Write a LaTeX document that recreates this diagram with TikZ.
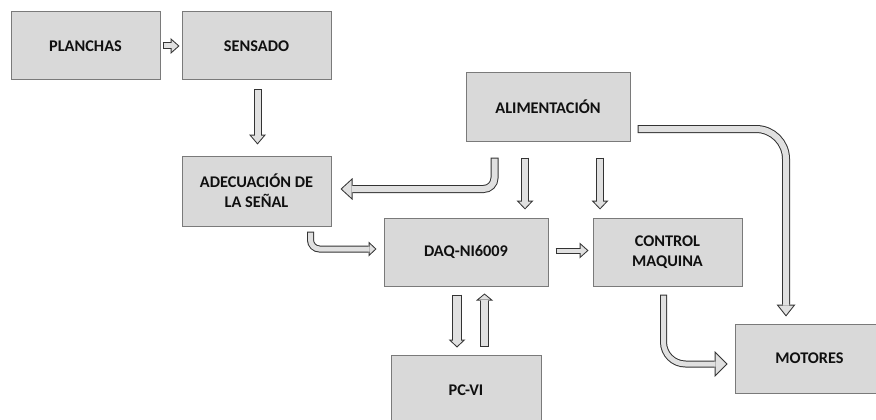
\documentclass[tikz,border=0pt]{standalone}
\usepackage{fontspec}
\setmainfont{Carlito}
\usetikzlibrary{arrows.meta,calc}

\definecolor{boxfill}{HTML}{D9D9D9}
\definecolor{boxline}{HTML}{7A7A7A}
\definecolor{arrline}{HTML}{333333}
\definecolor{arrfill}{HTML}{E0E0E0}
\definecolor{labeltext}{HTML}{101010}

% outline thickness of the hollow block arrows
\def\aDw{1}

% \blockarrow[path options]{outer shaft width}{head length}{head width}{path}
% Drawn twice: a dark outer stroke, then a lighter inner stroke inset by \aDw.
\newcommand\blockarrow[5][]{%
  \pgfmathsetmacro\baSinA{sin(atan2(#4/2,#3))}%
  \pgfmathsetmacro\baTipIn{\aDw/\baSinA}%
  \pgfmathsetmacro\baLin{#3-\aDw-\baTipIn}%
  \pgfmathsetmacro\baWin{#4*\baLin/#3}%
  \pgfmathsetmacro\baShaft{#2-2*\aDw}%
  \draw[#1, line cap=butt, line width=#2pt, draw=arrline,
        -{Triangle[length=#3pt,width=#4pt,line width=0pt]}] #5;
  \draw[#1, line cap=butt, line width=\baShaft pt, draw=arrfill,
        shorten <=\aDw pt, shorten >=\baTipIn pt,
        -{Triangle[length=\baLin pt,width=\baWin pt,line width=0pt]}] #5;
}

\tikzset{
  block/.style={rectangle, draw=boxline, fill=boxfill, line width=1pt,
    inner sep=0pt, align=center, text=labeltext,
    font=\fontsize{16.3}{20}\selectfont\bfseries},
}

\begin{document}
\begin{tikzpicture}[x=1pt, y=-1pt]
\useasboundingbox (0,0) rectangle (876,420);
\clip (0,0) rectangle (876,420);

% blocks
\node[block, minimum width=149, minimum height=68] (planchas) at (85.5,46) {PLANCHAS};
\node[block, minimum width=149, minimum height=68] (sensado) at (256.5,46) {SENSADO};
\node[block, minimum width=164, minimum height=68] (alim) at (548,107) {ALIMENTACIÓN};
\node[block, minimum width=149, minimum height=70] (adec) at (256.5,191) {ADECUACIÓN DE\\LA SEÑAL};
\node[block, minimum width=164, minimum height=68] (daq) at (466,252) {DAQ-NI6009};
\node[block, minimum width=149, minimum height=68] (control) at (667.5,252) {CONTROL\\MAQUINA};
\node[block, minimum width=150, minimum height=70] (pcvi) at (466,390) {PC-VI};
\node[block, minimum width=149, minimum height=69] (motores) at (809.5,358.5) {MOTORES};

% connectors
\blockarrow{7}{9}{16}{($(planchas.east)+(2,0)$) -- ($(sensado.west)+(-2,0)$)}
\blockarrow{8}{10}{17}{($(sensado.south)+(1,9)$) -- ($(adec.north)+(1,-11)$)}
\blockarrow[rounded corners=11pt]{8}{12}{22}{($(alim.south)+(-53.5,16)$) |- ($(adec.east)+(9,-2)$)}
\blockarrow{8}{9}{17}{($(alim.south)+(-23,16)$) -- ($(daq.north)+(59,-8)$)}
\blockarrow{8}{9}{17}{($(alim.south)+(52,16)$) -- ($(control.north)+(-67.5,-8)$)}
\blockarrow[rounded corners=30pt]{8}{12}{19}{($(alim.east)+(7,22)$) -| ($(motores.north)+(-23.5,-7)$)}
\blockarrow[rounded corners=9pt]{7}{8}{15}{($(adec.south)+(54,5)$) |- ($(daq.west)+(-7,-3)$)}
\blockarrow{6}{9}{16}{($(daq.east)+(7,-1.5)$) -- ($(control.west)+(-4,-1.5)$)}
\blockarrow{10}{8}{17}{($(daq.south)+(-9,8)$) -- ($(pcvi.north)+(-9,-7)$)}
\blockarrow{9}{7}{17}{($(pcvi.north)+(18.5,-8)$) -- ($(daq.south)+(18.5,7)$)}
\blockarrow[rounded corners=22pt]{7}{13}{26}{($(control.south)+(-4,8)$) |- ($(motores.west)+(-7,5.5)$)}
\end{tikzpicture}
\end{document}
